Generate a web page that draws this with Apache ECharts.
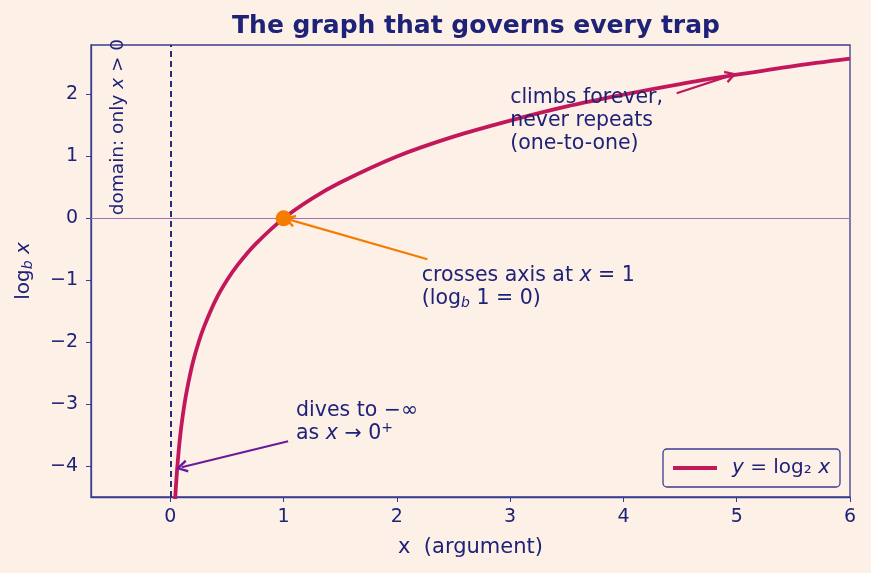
<!DOCTYPE html>
<html>
<head>
<meta charset="utf-8">
<script src="https://cdn.jsdelivr.net/npm/echarts@6/dist/echarts.min.js"></script>
<style>
  html, body { margin: 0; padding: 0; background: #fdf1e7; }
  #chart { width: 871px; height: 573px; }
</style>
</head>
<body>
<div id="chart"></div>
<script>
// curve samples
const xs = [0.04, 0.045, 0.05, 0.06, 0.07, 0.08, 0.1, 0.125, 0.15, 0.2, 0.25, 0.3, 0.4, 0.5, 0.6, 0.75, 1, 1.25, 1.5, 2, 2.5, 3, 3.5, 4, 4.5, 5, 5.5, 6];
const ys = [-4.64, -4.47, -4.32, -4.06, -3.84, -3.64, -3.32, -3.0, -2.74, -2.32, -2.0, -1.74, -1.32, -1.0, -0.74, -0.42, 0, 0.32, 0.58, 1.0, 1.32, 1.58, 1.81, 2.0, 2.17, 2.32, 2.46, 2.58];
const xTicks = [0, 1, 2, 3, 4, 5, 6];
const yTicks = [-4, -3, -2, -1, 0, 1, 2];
const crossPoint = [1, 0];

// arrows: [from, to]
const arrowCross = [[2.27, -0.66], [1.05, -0.02]];
const arrowClimb = [[4.47, 2.02], [4.95, 2.31]];
const arrowDive = [[1.04, -3.6], [0.1, -4.02]];

// annotation anchors (left / middle of text block)
const noteClimb = [3.0, 1.57];
const noteCross = [2.22, -1.11];
const noteDive = [1.11, -3.29];
const noteDomain = [-0.46, 0.05];

const navy = '#1f2378';
const frame = '#3a3d8f';
const crimson = '#c2185b';
const orange = '#f57c00';
const purple = '#6a1b9a';
const font = "'DejaVu Sans', sans-serif";

// open "->" arrow head
const headPath = 'path://M0,10 L5,0 L10,10 L8.2,10.9 L5,4 L1.8,10.9 Z';

const chart = echarts.init(document.getElementById('chart'));

const mathRich = {
  t: { fontFamily: font, fontSize: 20.5, color: navy, lineHeight: 23 },
  i: { fontFamily: font, fontSize: 20.5, color: navy, fontStyle: 'italic', lineHeight: 23 },
  s: { fontFamily: font, fontSize: 14, color: navy, fontStyle: 'italic', padding: [10, 0, 0, 0], lineHeight: 23 },
  p: { fontFamily: font, fontSize: 14, color: navy, padding: [0, 0, 10, 0], lineHeight: 23 }
};

function note(coord, text) {
  return {
    coord: coord,
    symbolSize: 0,
    label: {
      show: true,
      position: 'inside',
      align: 'left',
      verticalAlign: 'middle',
      formatter: text,
      rich: mathRich
    }
  };
}

function arrow(pair, color) {
  return [
    { coord: pair[0], symbol: 'none', lineStyle: { color: color, width: 2.2, type: 'solid' } },
    { coord: pair[1], symbol: headPath, symbolSize: [13, 12], itemStyle: { color: color } }
  ];
}

const minus = v => String(v).replace('-', '\u2212');

chart.setOption({
  backgroundColor: '#fdf1e7',
  animation: false,
  title: {
    text: 'The graph that governs every trap',
    left: 471,
    textAlign: 'center',
    top: 9,
    textStyle: { fontFamily: font, fontSize: 25, fontWeight: 'bold', color: navy }
  },
  grid: {
    left: 91, right: 21, top: 45, bottom: 76,
    show: true, borderColor: frame, borderWidth: 1.3, backgroundColor: 'transparent'
  },
  legend: {
    right: 31, bottom: 86,
    data: [{ name: 'y = log2 x', icon: 'rect' }],
    itemWidth: 44, itemHeight: 4, itemGap: 10,
    padding: [9, 10, 9, 10],
    borderColor: frame, borderWidth: 1.3, borderRadius: 4,
    backgroundColor: '#fdf1e7',
    formatter: () => '{i|y}{t| = log₂ }{i|x}',
    textStyle: { rich: {
      t: { fontFamily: font, fontSize: 20, color: navy },
      i: { fontFamily: font, fontSize: 20, color: navy, fontStyle: 'italic' }
    }, padding: [0, 0, 0, 10] }
  },
  xAxis: {
    type: 'value', min: -0.7, max: 6,
    name: 'x  (argument)', nameLocation: 'middle', nameGap: 40,
    nameTextStyle: { fontFamily: font, fontSize: 21, color: navy },
    axisLine: { show: true, onZero: false, lineStyle: { color: frame, width: 1.3 } },
    axisTick: { show: true, inside: false, length: 5, customValues: xTicks, lineStyle: { color: frame } },
    axisLabel: { customValues: xTicks, margin: 11, fontFamily: font, fontSize: 19, color: navy, formatter: minus },
    splitLine: { show: false }
  },
  yAxis: {
    type: 'value', min: -4.5, max: 2.8,
    name: '{t|log}{s|b}{t| }{i|x}', nameLocation: 'middle', nameGap: 56, nameRotate: 90,
    nameTextStyle: { rich: {
      t: { fontFamily: font, fontSize: 20, color: navy },
      i: { fontFamily: font, fontSize: 20, color: navy, fontStyle: 'italic' },
      s: { fontFamily: font, fontSize: 14, color: navy, fontStyle: 'italic', padding: [9, 0, 0, 0] }
    } },
    axisLine: { show: true, onZero: false, lineStyle: { color: frame, width: 1.3 } },
    axisTick: { show: true, inside: false, length: 5, customValues: yTicks, lineStyle: { color: frame } },
    axisLabel: { customValues: yTicks, margin: 13, fontFamily: font, fontSize: 19, color: navy, formatter: minus },
    splitLine: { show: false }
  },
  series: [
    {
      name: 'guides',
      type: 'line',
      data: [],
      silent: true,
      markLine: {
        silent: true,
        symbol: 'none',
        label: { show: false },
        data: [
          { yAxis: 0, lineStyle: { color: '#a26fbb', width: 1.2, type: 'solid' } },
          { xAxis: 0, lineStyle: { color: navy, width: 1.9, type: [6, 4] } }
        ]
      }
    },
    {
      name: 'y = log2 x',
      type: 'line',
      data: xs.map((x, k) => [x, ys[k]]),
      smooth: 0.3,
      showSymbol: false,
      symbol: 'none',
      clip: true,
      color: crimson,
      lineStyle: { color: crimson, width: 3.8 },
      z: 3
    },
    {
      name: 'cross',
      type: 'scatter',
      data: [crossPoint],
      symbolSize: 16,
      itemStyle: { color: orange, opacity: 1 },
      z: 5
    },
    {
      name: 'notes',
      type: 'line',
      data: [],
      silent: true,
      z: 6,
      markLine: {
        silent: true,
        label: { show: false },
        data: [
          arrow(arrowCross, orange),
          arrow(arrowClimb, crimson),
          arrow(arrowDive, purple)
        ]
      },
      markPoint: {
        silent: true,
        data: [
          note(noteClimb, '{t|climbs forever,}\n{t|never repeats}\n{t|(one-to-one)}'),
          note(noteCross, '{t|crosses axis at }{i|x}{t| = 1}\n{t|(log}{s|b}{t| 1 = 0)}'),
          note(noteDive, '{t|dives to \u2212\u221e}\n{t|as }{i|x}{t| \u2192 0}{p|+}'),
          {
            coord: noteDomain,
            symbolSize: 0,
            label: {
              show: true, position: 'inside', rotate: 90, align: 'left', verticalAlign: 'middle',
              formatter: '{t|domain: only }{i|x}{t| > 0}',
              rich: {
                t: { fontFamily: font, fontSize: 18.5, color: navy },
                i: { fontFamily: font, fontSize: 18.5, color: navy, fontStyle: 'italic' }
              }
            }
          }
        ]
      }
    }
  ]
});
</script>
</body>
</html>
